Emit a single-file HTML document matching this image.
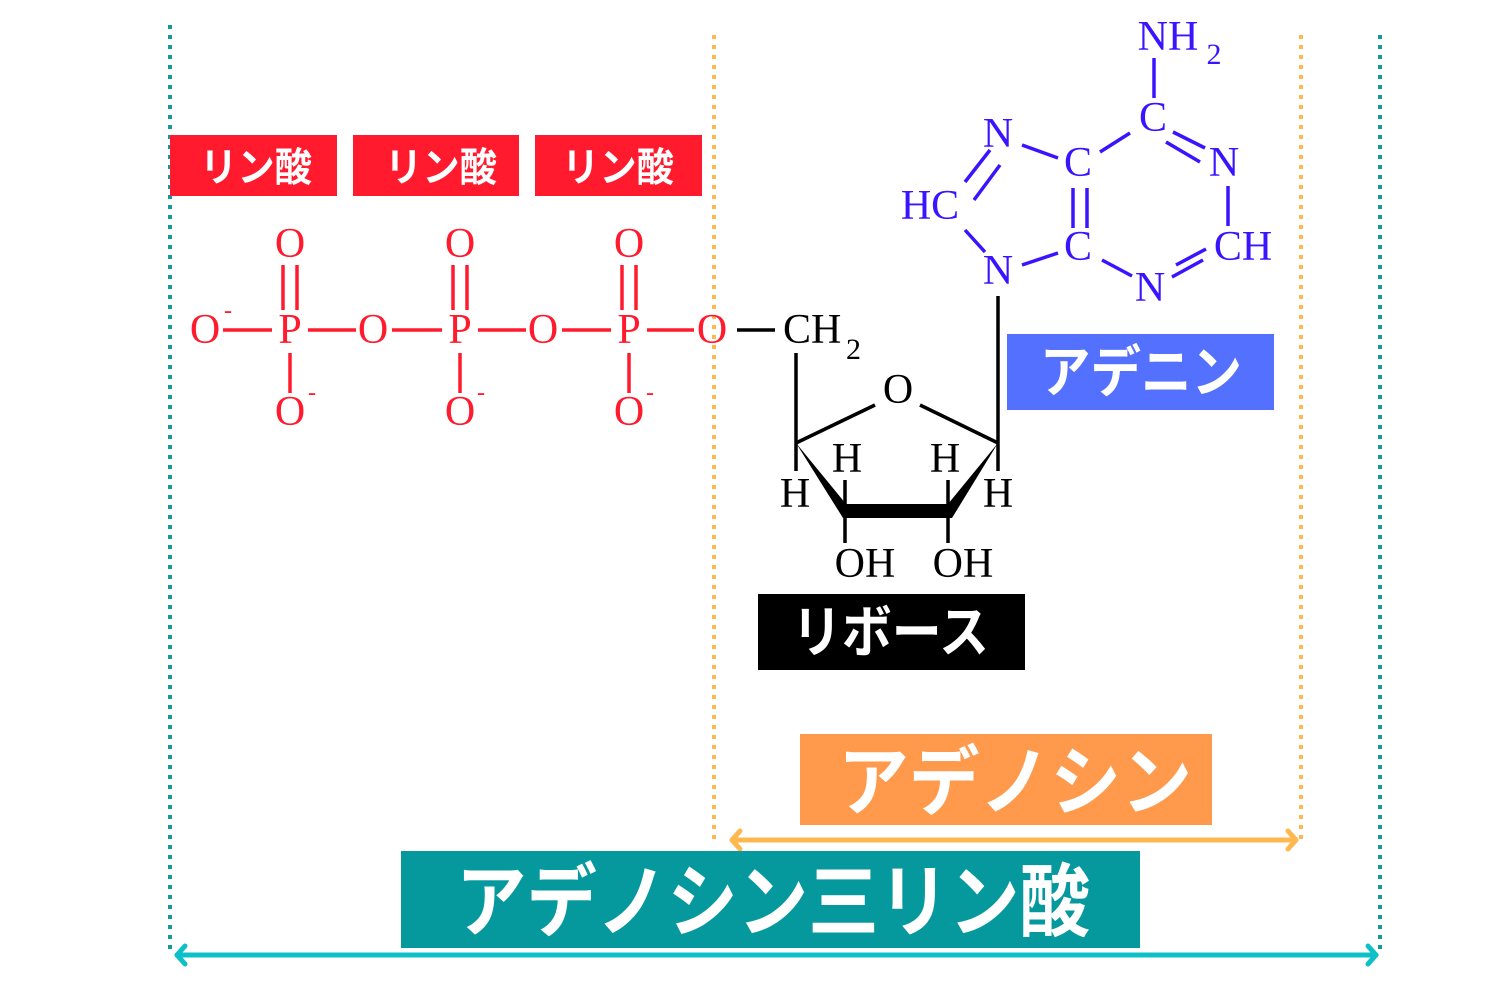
<!DOCTYPE html>
<html><head><meta charset="utf-8"><style>
html,body{margin:0;padding:0;background:#fff;}
svg{display:block;}
.s{font-family:"Liberation Serif",serif;font-size:42px;}
.j{font-family:"Liberation Sans","Noto Sans CJK JP",sans-serif;font-weight:bold;fill:#fff;}
</style></head><body>
<svg width="1500" height="1000" viewBox="0 0 1500 1000" xmlns="http://www.w3.org/2000/svg">
<!-- dotted guides -->
<g stroke-width="4" stroke-dasharray="4 6" fill="none">
<line x1="170" y1="25" x2="170" y2="950" stroke="#129a9a"/>
<line x1="1380" y1="35" x2="1380" y2="950" stroke="#129a9a"/>
<line x1="714" y1="35" x2="714" y2="840" stroke="#ffb850"/>
<line x1="1301" y1="35" x2="1301" y2="840" stroke="#ffb850"/>
</g>
<!-- arrows -->
<g fill="none" stroke-width="5" stroke-linecap="round" stroke-linejoin="round">
<g stroke="#ffb850">
<line x1="732" y1="840" x2="1296" y2="840"/>
<polyline points="740,831 732,840 740,849"/>
<polyline points="1288,831 1296,840 1288,849"/>
</g>
<g stroke="#0cc0c8">
<line x1="177" y1="955" x2="1376" y2="955"/>
<polyline points="185,946 177,955 185,964"/>
<polyline points="1368,946 1376,955 1368,964"/>
</g>
</g>
<!-- label boxes -->
<rect x="170" y="135" width="167" height="61" fill="#ff1a2e"/>
<rect x="353" y="135" width="166" height="61" fill="#ff1a2e"/>
<rect x="535" y="135" width="167" height="61" fill="#ff1a2e"/>
<text class="j" x="200" y="181" font-size="40" textLength="112" lengthAdjust="spacingAndGlyphs">リン酸</text>
<text class="j" x="385" y="181" font-size="40" textLength="112" lengthAdjust="spacingAndGlyphs">リン酸</text>
<text class="j" x="562" y="181" font-size="40" textLength="112" lengthAdjust="spacingAndGlyphs">リン酸</text>
<rect x="1007" y="334" width="267" height="76" fill="#5470ff"/>
<text class="j" x="1040" y="392" font-size="56" textLength="202" lengthAdjust="spacingAndGlyphs">アデニン</text>
<rect x="758" y="594" width="267" height="76" fill="#000"/>
<text class="j" x="792" y="652" font-size="56" textLength="197" lengthAdjust="spacingAndGlyphs">リボース</text>
<rect x="800" y="734" width="412" height="91" fill="#ff9a4c"/>
<text class="j" x="838" y="809" font-size="76" textLength="354" lengthAdjust="spacingAndGlyphs">アデノシン</text>
<rect x="401" y="851" width="739" height="97" fill="#05999e"/>
<text class="j" x="456" y="930" font-size="80" textLength="634" lengthAdjust="spacingAndGlyphs">アデノシン三リン酸</text>

<!-- phosphates (red) -->
<g fill="#ff1a2e" class="s" text-anchor="middle">
<text x="205" y="343">O</text><text x="290" y="343">P</text><text x="373" y="343">O</text>
<text x="460" y="343">P</text><text x="543" y="343">O</text><text x="629" y="343">P</text>
<text x="712" y="343">O</text>
<text x="290" y="257">O</text><text x="460" y="257">O</text><text x="629" y="257">O</text>
<text x="290" y="425">O</text><text x="460" y="425">O</text><text x="629" y="425">O</text>
<text x="228" y="318" font-size="24">-</text>
<text x="312" y="400" font-size="24">-</text>
<text x="481" y="400" font-size="24">-</text>
<text x="650" y="400" font-size="24">-</text>
</g>
<g stroke="#ff1a2e" stroke-width="3.5">
<line x1="223" y1="330" x2="272" y2="330"/><line x1="308" y1="330" x2="356" y2="330"/>
<line x1="392" y1="330" x2="442" y2="330"/><line x1="478" y1="330" x2="526" y2="330"/>
<line x1="562" y1="330" x2="611" y2="330"/><line x1="647" y1="330" x2="694" y2="330"/>
<line x1="283" y1="265" x2="283" y2="310"/><line x1="297" y1="265" x2="297" y2="310"/>
<line x1="453" y1="265" x2="453" y2="310"/><line x1="467" y1="265" x2="467" y2="310"/>
<line x1="622" y1="265" x2="622" y2="310"/><line x1="636" y1="265" x2="636" y2="310"/>
<line x1="290" y1="353" x2="290" y2="393"/><line x1="460" y1="353" x2="460" y2="393"/>
<line x1="629" y1="353" x2="629" y2="393"/>
</g>

<!-- ribose (black) -->
<g fill="#000" class="s">
<text x="783" y="343">CH</text><text x="846" y="359" font-size="30">2</text>
<text x="898" y="403" text-anchor="middle">O</text>
<text x="795" y="507" text-anchor="middle">H</text>
<text x="847" y="472" text-anchor="middle">H</text>
<text x="945" y="472" text-anchor="middle">H</text>
<text x="998" y="507" text-anchor="middle">H</text>
<text x="865" y="577" text-anchor="middle">OH</text>
<text x="963" y="577" text-anchor="middle">OH</text>
</g>
<g stroke="#000" stroke-width="3.5" fill="none">
<line x1="737" y1="330" x2="775" y2="330"/>
<line x1="796" y1="353" x2="796" y2="471"/>
<line x1="796" y1="443" x2="875" y2="405"/>
<line x1="920" y1="405" x2="998" y2="443"/>
<line x1="998" y1="296" x2="998" y2="471"/>
<line x1="845" y1="480" x2="845" y2="505"/>
<line x1="948" y1="480" x2="948" y2="505"/>
<line x1="845" y1="518" x2="845" y2="543"/>
<line x1="948" y1="518" x2="948" y2="543"/>
</g>
<polygon points="796,443 846,504 948,504 998,443 952,518 843,518" fill="#000"/>

<!-- adenine (blue) -->
<g fill="#3a14ff" class="s" text-anchor="middle">
<text x="1168" y="50" text-anchor="middle">NH</text><text x="1214" y="64" font-size="30">2</text>
<text x="1153" y="131">C</text>
<text x="1224" y="176">N</text>
<text x="1243" y="260">CH</text>
<text x="1150" y="301">N</text>
<text x="1078" y="260">C</text>
<text x="1078" y="176">C</text>
<text x="998" y="147">N</text>
<text x="930" y="219">HC</text>
<text x="998" y="284">N</text>
</g>
<g stroke="#3a14ff" stroke-width="3.5">
<line x1="1154" y1="58" x2="1154" y2="98"/>
<line x1="1100" y1="152" x2="1130" y2="133"/>
<line x1="1173" y1="132" x2="1205" y2="148"/>
<line x1="1166" y1="142" x2="1200" y2="162"/>
<line x1="1228" y1="186" x2="1228" y2="226"/>
<line x1="1176" y1="265" x2="1206" y2="249"/>
<line x1="1172" y1="277" x2="1203" y2="260"/>
<line x1="1102" y1="260" x2="1132" y2="276"/>
<line x1="1073" y1="188" x2="1073" y2="228"/>
<line x1="1087" y1="188" x2="1087" y2="228"/>
<line x1="1022" y1="145" x2="1058" y2="158"/>
<line x1="1022" y1="265" x2="1058" y2="253"/>
<line x1="965" y1="182" x2="990" y2="150"/>
<line x1="974" y1="200" x2="1000" y2="165"/>
<line x1="965" y1="230" x2="985" y2="252"/>
</g>
</svg>
</body></html>
